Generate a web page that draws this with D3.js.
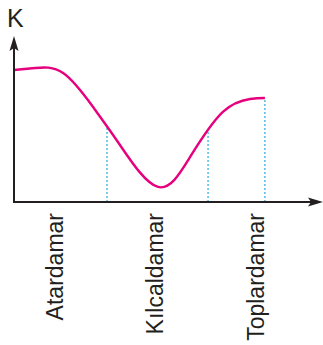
<!DOCTYPE html>
<html>
<head>
<meta charset="utf-8">
<script src="https://cdn.jsdelivr.net/npm/d3@7"></script>
<style>
  body { margin: 0; background: #fff; }
  svg { display: block; }
</style>
</head>
<body>
<div class="chart"></div>
<script>
// chart size
var svg_width = 323;
var svg_height = 345;

// curve data (x position along the vessel path, K value)
var curve_x = [0, 6.8, 15.9, 25.6, 34.3, 46.6, 57.0, 67.6, 76.4, 81.2];
var curve_k = [81.5, 82.7, 79.6, 58.6, 35.2, 9.3, 27.8, 55.6, 63.6, 64.2];

// boundaries between vessel types (dotted lines)
var boundaries = [30.1, 62.8, 81.2];

// category labels and where they sit
var categories = ["Atardamar", "Kılcaldamar", "Toplardamar"];
var category_pos = [15.9, 48.2, 80.9];

var y_label = "K";

var axis_color = "#231f20";

var svg = d3.select(".chart").append("svg")
  .attr("width", svg_width)
  .attr("height", svg_height);

var x = d3.scaleLinear().domain([0, 100]).range([14, 323]);
var y = d3.scaleLinear().domain([0, 100]).range([202, 40]);

// the curve
var points = curve_x.map(function(d, i) { return [d, curve_k[i]]; });
var line = d3.line()
  .x(function(d) { return x(d[0]); })
  .y(function(d) { return y(d[1]); })
  .curve(d3.curveNatural);

var path = svg.append("path")
  .datum(points)
  .attr("d", line)
  .attr("fill", "none")
  .attr("stroke", "#e6007e")
  .attr("stroke-width", 2.4);

// find where the drawn curve crosses a given x, so the dotted lines stop on it
var pathNode = path.node();
var pathLen = pathNode.getTotalLength();
function curveYAt(px) {
  var lo = 0, hi = pathLen;
  for (var k = 0; k < 40; k++) {
    var mid = (lo + hi) / 2;
    if (pathNode.getPointAtLength(mid).x < px) lo = mid; else hi = mid;
  }
  return pathNode.getPointAtLength(lo).y;
}

// dotted guide lines
svg.selectAll("line.guide")
  .data(boundaries)
  .enter()
  .insert("line", "path")
  .attr("class", "guide")
  .attr("x1", function(d) { return x(d); })
  .attr("x2", function(d) { return x(d); })
  .attr("y1", y(0))
  .attr("y2", function(d) { return curveYAt(x(d)); })
  .attr("stroke", "#29abe2")
  .attr("stroke-width", 1.2)
  .attr("stroke-dasharray", "2,2");

// axes
var x0 = x(0), y0 = y(0);
svg.append("line")
  .attr("x1", x0).attr("y1", y0)
  .attr("x2", x0).attr("y2", 48)
  .attr("stroke", axis_color)
  .attr("stroke-width", 2);
svg.append("line")
  .attr("x1", x0 - 1).attr("y1", y0)
  .attr("x2", 314).attr("y2", y0)
  .attr("stroke", axis_color)
  .attr("stroke-width", 2);

// arrow heads
svg.append("path")
  .attr("d", "M" + x0 + ",36 L" + (x0 + 4.5) + ",51 L" + x0 + ",48 L" + (x0 - 4.5) + ",51 Z")
  .attr("fill", axis_color);
svg.append("path")
  .attr("d", "M323," + y0 + " L308," + (y0 - 4.5) + " L311," + y0 + " L308," + (y0 + 4.5) + " Z")
  .attr("fill", axis_color);

// y label
svg.append("text")
  .text(y_label)
  .attr("x", 7)
  .attr("y", 27)
  .attr("font-family", "Liberation Sans, Arial, sans-serif")
  .attr("font-size", "25px")
  .attr("fill", axis_color);

// category labels, rotated
svg.selectAll("text.cat")
  .data(categories)
  .enter()
  .append("text")
  .attr("class", "cat")
  .text(function(d) { return d; })
  .attr("transform", function(d, i) {
    return "translate(" + x(category_pos[i]) + ",213) rotate(-90)";
  })
  .attr("text-anchor", "end")
  .attr("font-family", "Liberation Sans, Arial, sans-serif")
  .attr("font-size", "23px")
  .attr("fill", axis_color);
</script>
</body>
</html>
